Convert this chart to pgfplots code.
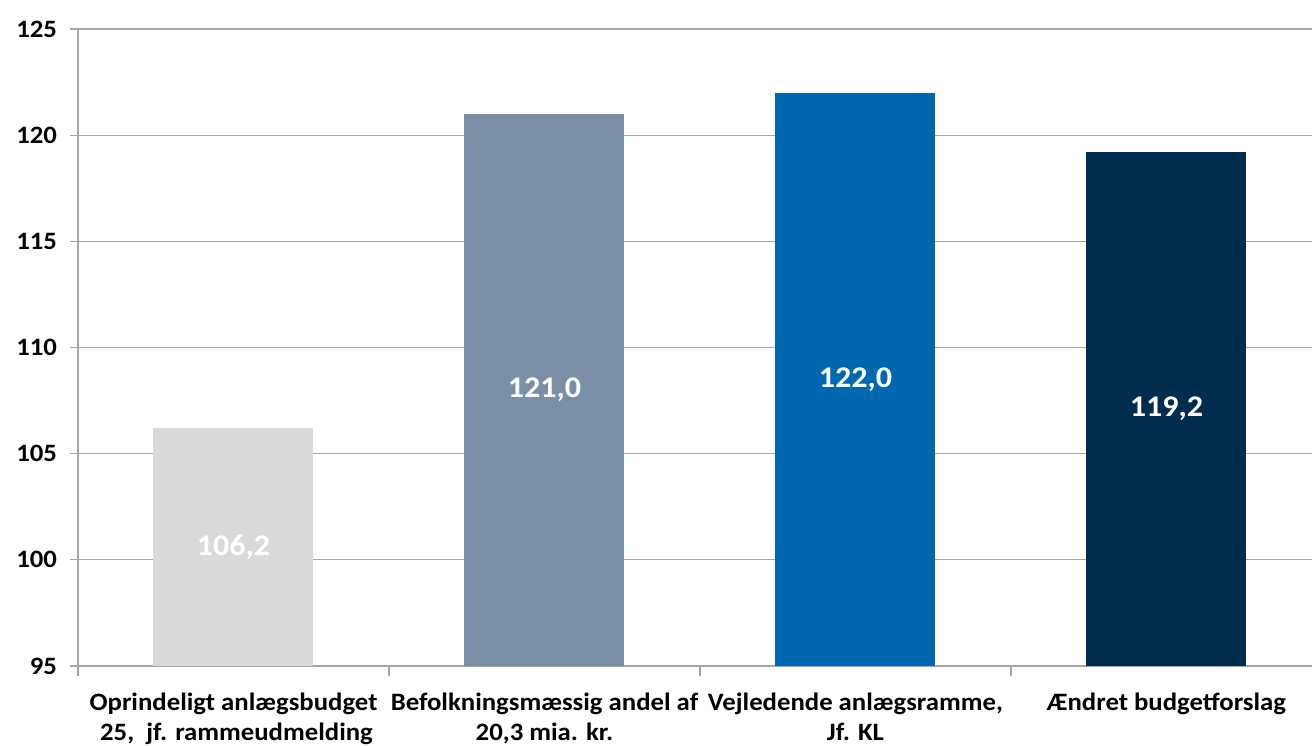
\documentclass[border=0pt]{standalone}
\usepackage{pgfplots}
\pgfplotsset{compat=1.18}
\usepackage{pgfplotstable}
\usepackage{fontspec}
\setmainfont{Carlito}[FakeStretch=1.07]
\definecolor{c1}{HTML}{D9DBDB}
\definecolor{c2}{HTML}{7A8FA6}
\definecolor{c3}{HTML}{0068B1}
\definecolor{c4}{HTML}{002C4E}
\definecolor{gridc}{HTML}{A6A6A6}
\pgfplotstableread{
x y mid
0 106.2 100.6
1 121.0 108.0
2 122.0 108.5
3 119.2 107.1
}\data
\begin{document}
\begin{tikzpicture}
\begin{axis}[
  at={(0,0)}, anchor=south west,
  scale only axis,
  width=617pt, height=318.5pt,
  xmin=-0.5, xmax=3.468,
  ymin=95, ymax=125,
  ytick={95,100,...,125},
  xtick={0,1,2,3},
  xticklabels={{Oprindeligt anlægsbudget\\ \ 25,\ \ jf. rammeudmelding},{Befolkningsmæssig andel af\\ 20,3 mia. kr.},{Vejledende anlægsramme,\\ Jf. KL},{Ændret budgetforslag}},
  minor xtick={-0.5,0.5,1.5,2.5},
  axis x line*=bottom, axis y line*=left,
  axis line style={gridc, line width=0.6pt},
  ymajorgrids, grid style={gridc, line width=0.6pt},
  tick align=outside,
  major tick length=4pt, minor tick length=5pt,
  xtick style={draw=none},
  minor x tick style={gridc, line width=0.6pt, draw=gridc},
  ytick style={gridc, line width=0.6pt},
  /pgf/number format/assume math mode=true,
  tick label style={font=\fontsize{12.5}{15}\selectfont\bfseries},
  xticklabel style={align=center, yshift=-6pt},
  yticklabel style={xshift=-3pt},
]
\addplot[ybar, bar width=80pt, bar shift=0pt, fill=c1, draw=none] coordinates {(0,106.2)};
\addplot[ybar, bar width=80pt, bar shift=0pt, fill=c2, draw=none] coordinates {(1,121.0)};
\addplot[ybar, bar width=80pt, bar shift=0pt, fill=c3, draw=none] coordinates {(2,122.0)};
\addplot[ybar, bar width=80pt, bar shift=0pt, fill=c4, draw=none] coordinates {(3,119.2)};
\addplot[only marks, mark=none, point meta=explicit,
  nodes near coords={\pgfmathprintnumber[fixed,fixed zerofill,precision=1,use comma,assume math mode=true]{\pgfplotspointmeta}},
  nodes near coords style={font=\fontsize{15}{18}\selectfont\bfseries, text=white, anchor=center}]
  table[x=x, y=mid, meta=y] {\data};
\end{axis}
\pgfresetboundingbox
\path (-39pt,-39.5pt) rectangle (617pt,333pt);
\end{tikzpicture}
\end{document}
